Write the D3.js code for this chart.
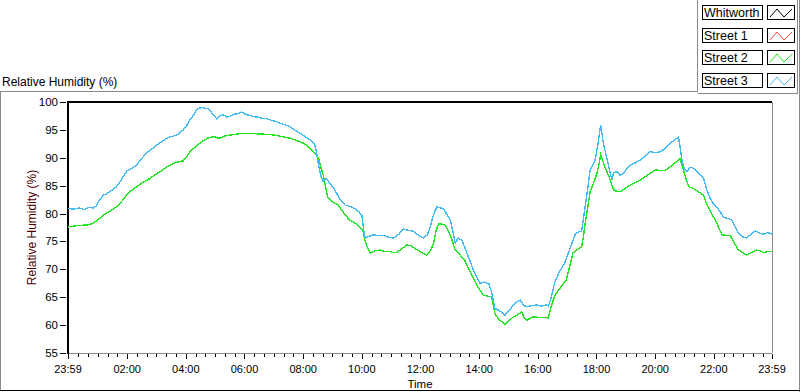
<!DOCTYPE html>
<html>
<head>
<meta charset="utf-8">
<script src="https://cdn.jsdelivr.net/npm/d3@7"></script>
<style>
  html, body { margin: 0; padding: 0; background: #fff; }
  svg { display: block; font-family: "Liberation Sans", Arial, sans-serif; }
</style>
</head>
<body>
<svg id="chart" width="800" height="392"></svg>
<script>
/* ── Data: hours after 23:59, relative humidity (%) ─────────── */
const SERIES_NAMES  = ["Whitworth", "Street 1", "Street 2", "Street 3"];
const SERIES_COLORS = ["#000000", "#ff4444", "#22e622", "#44bbf5"];

const street3Time = [0,0.2,0.4,0.55,0.7,0.86,0.95,1.05,1.2,1.3,1.43,1.55,1.65,1.77,1.88,2,2.1,2.2,2.34,2.45,2.55,2.68,2.8,2.92,3.03,3.15,3.25,3.37,3.5,3.6,3.71,3.82,3.93,4.05,4.16,4.28,4.39,4.47,4.56,4.66,4.78,4.88,4.98,5.07,5.18,5.3,5.42,5.53,5.65,5.8,5.92,6.05,6.18,6.32,6.45,6.6,6.78,6.95,7.1,7.23,7.4,7.57,7.72,7.91,8.05,8.25,8.35,8.41,8.48,8.55,8.62,8.7,8.8,8.93,9.05,9.16,9.3,9.45,9.6,9.79,9.92,10.02,10.08,10.13,10.25,10.42,10.6,10.76,10.9,11.1,11.28,11.44,11.6,11.78,11.95,12.12,12.25,12.35,12.47,12.58,12.7,12.8,12.92,13.03,13.12,13.2,13.3,13.43,13.52,13.6,13.71,13.82,13.93,14.05,14.2,14.35,14.45,14.55,14.7,14.9,15.05,15.19,15.3,15.42,15.54,15.64,15.8,15.98,16.15,16.3,16.38,16.45,16.6,16.75,16.92,17.08,17.18,17.3,17.45,17.51,17.63,17.72,17.8,17.97,18.07,18.16,18.25,18.37,18.54,18.6,18.71,18.82,18.94,19.05,19.17,19.35,19.51,19.68,19.85,20.02,20.19,20.35,20.47,20.65,20.81,20.88,20.93,21,21.1,21.2,21.33,21.5,21.67,21.78,21.89,22,22.12,22.25,22.35,22.5,22.63,22.75,22.86,23,23.14,23.28,23.43,23.58,23.71,23.85,24];
const street3RH   = [80.9,80.8,81.0,80.7,81.1,81.0,81.3,82.2,83.3,83.5,83.9,84.4,84.8,85.7,86.6,87.6,87.9,88.2,88.7,89.5,90.1,90.8,91.4,91.8,92.3,92.7,93.1,93.5,93.8,93.9,94.1,94.5,95.0,95.8,96.8,97.7,98.6,98.9,99.0,98.9,98.8,98.2,97.5,97.0,97.5,97.7,97.3,97.4,97.8,97.9,98.2,97.8,97.6,97.4,97.3,97.1,97.0,96.7,96.5,96.2,95.9,95.6,95.0,94.4,93.9,93.2,92.8,92.3,90.8,88.5,86.8,85.7,86.3,85.4,84.6,83.6,82.3,81.5,81.3,80.9,80.3,79.7,77.0,75.6,75.9,76.2,76.0,76.1,75.8,75.6,76.3,77.2,77.0,76.8,76.1,75.6,76.2,77.6,80.0,81.2,81.0,80.9,79.8,78.9,76.8,74.7,75.6,75.2,74.0,72.9,71.4,69.9,68.6,67.5,67.7,67.4,65.7,63.0,62.6,61.8,62.7,63.6,64.2,64.5,63.5,63.3,63.5,63.6,63.4,63.6,63.4,64.5,67.8,69.5,71.0,73.2,74.7,76.4,76.8,76.8,81.2,84.6,87.8,89.6,92.6,95.9,92.6,89.9,86.0,87.3,87.5,86.9,87.2,88.1,88.7,89.1,89.6,90.3,91.1,90.9,91.1,91.6,92.3,93.1,93.7,91.5,89.6,88.2,87.5,88.3,88.1,87.2,86.3,84.2,82.75,81.8,81.2,80.2,79.3,79.1,78.85,77.6,76.45,75.8,75.6,76.3,76.9,76.5,76.3,76.6,76.3];

const street2Time = [0,0.25,0.5,0.7,0.86,1.05,1.2,1.45,1.66,1.85,2,2.15,2.34,2.55,2.8,2.95,3.14,3.35,3.59,3.78,3.93,4.05,4.16,4.35,4.56,4.75,4.96,5.08,5.18,5.3,5.41,5.7,5.98,6.25,6.55,6.8,7,7.3,7.57,7.8,8.03,8.2,8.37,8.47,8.54,8.62,8.7,8.78,8.85,8.93,9.02,9.2,9.37,9.5,9.6,9.75,9.88,9.98,10.05,10.12,10.2,10.3,10.45,10.64,10.8,10.98,11.1,11.21,11.38,11.55,11.7,11.83,12,12.22,12.35,12.46,12.55,12.63,12.75,12.85,12.95,13.03,13.12,13.2,13.37,13.52,13.71,13.82,13.93,14.05,14.16,14.3,14.44,14.5,14.55,14.65,14.73,14.9,15.05,15.19,15.35,15.47,15.55,15.64,15.75,15.87,16.1,16.38,16.45,16.6,16.77,16.99,17.1,17.21,17.32,17.51,17.57,17.63,17.72,17.8,17.92,18.03,18.1,18.16,18.3,18.45,18.6,18.7,18.82,19,19.17,19.35,19.51,19.68,19.85,20.02,20.2,20.36,20.5,20.65,20.86,20.93,21,21.08,21.17,21.33,21.5,21.67,21.75,21.84,21.95,22.07,22.18,22.3,22.45,22.58,22.72,22.86,23,23.14,23.3,23.48,23.6,23.71,23.85,24];
const street2RH   = [77.6,77.8,77.9,78.0,78.25,79.0,79.7,80.5,81.2,82.3,83.3,84.1,84.8,85.6,86.3,86.9,87.5,88.3,89.0,89.3,89.45,90.2,91.1,92.0,92.9,93.5,93.8,93.6,93.5,93.8,94.0,94.2,94.4,94.4,94.25,94.2,94.1,93.8,93.5,93.1,92.6,92.0,91.1,90.4,89.9,88.3,86.9,84.8,83.0,82.6,82.1,81.6,80.35,79.5,78.85,78.4,77.95,77.4,77.0,75.3,74.0,72.9,73.3,73.45,73.2,73.2,73.0,73.0,73.7,74.35,74.2,73.75,73.2,72.55,73.2,74.65,77.0,78.1,78.1,77.95,77.0,76.15,74.8,73.45,72.55,71.65,69.55,68.4,67.15,66.2,65.35,65.2,65.05,63.5,62.05,61.3,60.85,60.15,60.9,61.5,61.9,62.35,61.3,60.85,61.2,61.5,61.35,61.3,63.0,65.35,66.6,68.1,70.45,72.9,73.4,74.05,75.85,78.25,81.2,83.9,85.5,87.2,88.8,90.5,88.4,86.5,84.25,84.0,83.9,84.5,85.1,85.6,86.0,86.6,87.2,87.8,87.75,87.7,88.3,88.85,89.9,88.7,87.5,86.0,84.8,84.5,83.9,83.3,82.0,80.95,79.9,78.85,77.5,76.15,76.1,76.0,74.7,73.45,73.0,72.55,73.0,73.45,73.3,73.0,73.2,73.15];

const yTicks      = [55, 60, 65, 70, 75, 80, 85, 90, 95, 100];
const xTickHours  = [0, 2, 4, 6, 8, 10, 12, 14, 16, 18, 20, 22, 24];
const xTickLabels = ["23:59","02:00","04:00","06:00","08:00","10:00","12:00","14:00","16:00","18:00","20:00","22:00","23:59"];

/* ── Layout ──────────────────────────────────────────────────── */
const PLOT = { left: 68, right: 772, top: 102, bottom: 353 };
const svg  = d3.select("#chart");

/* hours are counted from 23:59, ticks at clock hours sit 1 min later */
const OFFSET = 1 / 60;
const x = d3.scaleLinear().domain([0, 24]).range([PLOT.left, PLOT.right]);
const y = d3.scaleLinear().domain([55, 100]).range([PLOT.bottom, PLOT.top]);
const tickX = h => (h === 0 || h === 24) ? x(h) : x(h + OFFSET);

/* ── Panel frames ────────────────────────────────────────────── */
const frame = svg.append("g").attr("fill", "none").attr("shape-rendering", "crispEdges");
frame.append("path").attr("stroke", "#8a8a8a").attr("d", "M0.5,391 V91.5 H697.5 V0");
frame.append("path").attr("stroke", "#8a8a8a").attr("d", "M697.5,93.5 H797.5 V0");
frame.append("path").attr("stroke", "#8a8a8a").attr("d", "M799.5,0 V392");
frame.append("path").attr("stroke", "#000").attr("d", "M0,390.5 H800");

svg.append("text")
  .attr("x", 2).attr("y", 86)
  .attr("font-size", 12).attr("fill", "#000")
  .text("Relative Humidity (%)");

/* ── Plot box ────────────────────────────────────────────────── */
const box = svg.append("g").attr("shape-rendering", "crispEdges");
box.append("line")
  .attr("x1", PLOT.left).attr("x2", PLOT.right)
  .attr("y1", PLOT.bottom + 0.5).attr("y2", PLOT.bottom + 0.5)
  .attr("stroke", "#8a8a8a");
box.append("line")
  .attr("x1", PLOT.right + 0.5).attr("x2", PLOT.right + 0.5)
  .attr("y1", PLOT.top).attr("y2", PLOT.bottom)
  .attr("stroke", "#8a8a8a");

/* ── Series ──────────────────────────────────────────────────── */
const seriesData = [
  { name: "Street 2", color: SERIES_COLORS[2], pts: d3.zip(street2Time, street2RH) },
  { name: "Street 3", color: SERIES_COLORS[3], pts: d3.zip(street3Time, street3RH) },
];
const line = d3.line().x(d => x(d[0])).y(d => y(d[1]));
svg.append("g")
  .selectAll("path")
  .data(seriesData)
  .join("path")
  .attr("fill", "none")
  .attr("stroke", d => d.color)
  .attr("stroke-width", 1.4)
  .attr("shape-rendering", "crispEdges")
  .attr("d", d => line(d.pts));

/* top and left edges drawn over the data */
box.append("line")
  .attr("x1", PLOT.left - 1).attr("x2", PLOT.right)
  .attr("y1", PLOT.top).attr("y2", PLOT.top)
  .attr("stroke", "#000").attr("stroke-width", 2);
box.append("line")
  .attr("x1", PLOT.left).attr("x2", PLOT.left)
  .attr("y1", PLOT.top).attr("y2", PLOT.bottom + 1)
  .attr("stroke", "#000").attr("stroke-width", 2);

/* ── Y axis ──────────────────────────────────────────────────── */
const yAxis = svg.append("g").attr("font-size", 11.5);
yTicks.forEach(v => {
  yAxis.append("line")
    .attr("x1", 60).attr("x2", 66)
    .attr("y1", Math.round(y(v)) + 0.5).attr("y2", Math.round(y(v)) + 0.5)
    .attr("stroke", "#000").attr("shape-rendering", "crispEdges");
  yAxis.append("text")
    .attr("x", 58).attr("y", y(v) + 4)
    .attr("text-anchor", "end").attr("fill", "#000")
    .text(v);
});
svg.append("text")
  .attr("transform", `translate(36,${(PLOT.top + PLOT.bottom) / 2}) rotate(-90)`)
  .attr("text-anchor", "middle")
  .attr("font-size", 12).attr("fill", "#4a0000")
  .text("Relative Humidity (%)");

/* ── X axis ──────────────────────────────────────────────────── */
const xAxis = svg.append("g").attr("font-size", 11).attr("shape-rendering", "crispEdges");
const minorHours = d3.range(1, 72).map(i => i / 3).filter(h => h % 2 !== 0 && h < 24);
minorHours.forEach(h => {
  const px = Math.round(tickX(h)) + 0.5;
  xAxis.append("line")
    .attr("x1", px).attr("x2", px)
    .attr("y1", PLOT.bottom + 1).attr("y2", PLOT.bottom + 4)
    .attr("stroke", "#000");
});
xTickHours.forEach((h, i) => {
  const px = Math.round(tickX(h)) + 0.5;
  xAxis.append("line")
    .attr("x1", px).attr("x2", px)
    .attr("y1", PLOT.bottom + 1).attr("y2", PLOT.bottom + 6)
    .attr("stroke", "#000");
  xAxis.append("text")
    .attr("x", tickX(h)).attr("y", 373)
    .attr("text-anchor", "middle").attr("fill", "#000")
    .text(xTickLabels[i]);
});
svg.append("text")
  .attr("x", (PLOT.left + PLOT.right) / 2).attr("y", 388)
  .attr("text-anchor", "middle")
  .attr("font-size", 11.5).attr("fill", "#000")
  .text("Time");

/* ── Legend ──────────────────────────────────────────────────── */
const legend = svg.append("g").attr("shape-rendering", "crispEdges");
SERIES_NAMES.forEach((name, i) => {
  const top = 5 + i * 22.6;
  const g = legend.append("g").attr("transform", `translate(0,${Math.round(top)})`);
  g.append("rect")
    .attr("x", 702.5).attr("y", 0.5).attr("width", 60).attr("height", 14)
    .attr("fill", "#fff").attr("stroke", "#000");
  g.append("text")
    .attr("x", 704).attr("y", 12)
    .attr("font-size", 12.5).attr("fill", "#000")
    .text(name);
  g.append("rect")
    .attr("x", 767.5).attr("y", 0.5).attr("width", 27).attr("height", 14)
    .attr("fill", "#fff").attr("stroke", "#000");
  g.append("path")
    .attr("d", "M770,12 L777,4 L784,12 L792,4")
    .attr("fill", "none")
    .attr("stroke", SERIES_COLORS[i])
    .attr("shape-rendering", "auto");
});
</script>
</body>
</html>
